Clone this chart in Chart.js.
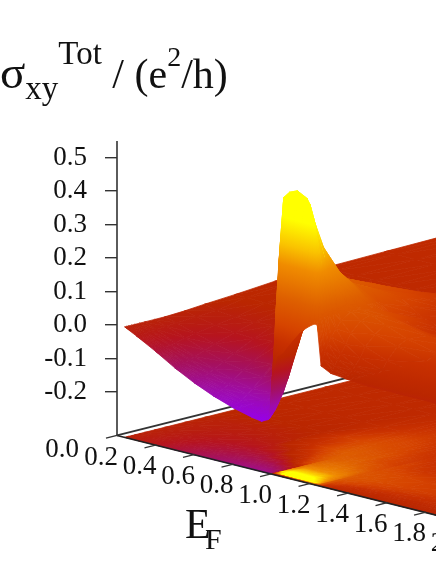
<!DOCTYPE html>
<html><head><meta charset="utf-8">
<style>html,body{margin:0;padding:0;background:#fff}canvas{display:block}</style>
<script src="https://cdn.jsdelivr.net/npm/chart.js@4"></script>
</head><body><canvas id="c" width="436" height="564"></canvas>
<script>
const zTicks=[0.5,0.4,0.3,0.2,0.1,0.0,-0.1,-0.2];
const efTicks=[0.2,0.4,0.6,0.8,1.0,1.2,1.4,1.6,1.8,2.0];
const tNodes=[0,.02,.04,.07,.1,.15,.2,.3,.4,.6,.8,1.1,1.5,2,2.6,3.3];
const efNodes=[.24,.3,.4,.5,.6,.7,.8,.9,.95,.985,.995,1.005,1.03,1.06,1.1,1.15,1.2,1.225,1.24,1.26,1.31,1.385,1.5,1.65,1.85,2.0];
const sigma=[
[0,0,0,0,0,0,0,0,0,.003,.008,.014,.024,.027,.03,.033],
[-.018,-.018,-.017,-.017,-.016,-.015,-.014,-.012,-.01,-.006,-.002,.014,.024,.027,.03,.033],
[-.05,-.049,-.048,-.047,-.045,-.042,-.039,-.033,-.027,-.016,-.007,.012,.024,.027,.03,.033],
[-.085,-.083,-.082,-.08,-.077,-.072,-.066,-.055,-.044,-.024,-.008,.012,.024,.027,.03,.033],
[-.115,-.113,-.111,-.108,-.104,-.097,-.089,-.074,-.058,-.028,-.004,.012,.024,.027,.03,.033],
[-.14,-.138,-.135,-.131,-.126,-.117,-.107,-.087,-.065,-.02,.004,.014,.024,.027,.03,.033],
[-.16,-.157,-.154,-.149,-.143,-.132,-.119,-.092,-.06,.01,.06,.09,.05,.03,.03,.033],
[-.175,-.172,-.168,-.161,-.153,-.137,-.118,-.07,0,.08,.14,.13,.08,.04,.03,.033],
[-.18,-.176,-.171,-.162,-.15,-.128,-.1,-.02,.06,.14,.18,.15,.09,.045,.03,.033],
[-.17,-.165,-.158,-.146,-.13,-.1,-.06,.03,.12,.18,.19,.15,.095,.05,.03,.033],
[-.148,-.14,-.13,-.115,-.095,-.06,-.02,.06,.14,.19,.19,.15,.095,.05,.03,.033],
[-.05,.03,.15,.3,.4,.35,.3,.25,.22,.2,.19,.15,.1,.05,.03,.033],
[.024,.1,.38,.495,.48,.43,.37,.29,.24,.2,.18,.14,.1,.05,.035,.032],
[.04,.12,.44,.515,.51,.44,.38,.3,.25,.21,.18,.14,.095,.05,.035,.032],
[.075,.18,.46,.525,.515,.44,.38,.3,.26,.21,.18,.13,.085,.05,.035,.032],
[.115,.22,.49,.51,.49,.43,.37,.3,.26,.2,.14,.11,.07,.045,.035,.03],
[.14,.3,.46,.4,.37,.33,.31,.28,.245,.17,.12,.09,.06,.04,.03,.03],
[.15,.27,.33,.32,.3,.28,.265,.235,.21,.155,.11,.085,.055,.04,.03,.03],
[.15,.16,.17,.18,.18,.18,.18,.19,.18,.145,.105,.08,.055,.04,.03,.03],
[.03,.05,.07,.09,.11,.13,.15,.17,.17,.15,.12,.08,.05,.04,.03,.03],
[.015,.025,.035,.05,.065,.09,.12,.15,.16,.14,.1,.065,.045,.035,.03,.03],
[.01,.015,.02,.03,.04,.06,.09,.12,.14,.125,.085,.055,.04,.03,.03,.03],
[.005,.01,.015,.02,.03,.04,.065,.1,.115,.11,.08,.05,.04,.03,.03,.03],
[.005,.008,.01,.015,.02,.03,.05,.075,.095,.1,.075,.05,.04,.03,.03,.03],
[.004,.006,.008,.01,.015,.022,.035,.055,.075,.085,.07,.05,.035,.03,.03,.03],
[.004,.006,.008,.01,.015,.022,.03,.045,.06,.07,.06,.05,.035,.03,.03,.03]
];
const zFloor=-0.33, zTop=0.55, efOrigin=0.2;
// oblique projection of (EF, t, sigma) into the two chart scales
const tToX=0.5195, efToY=0.1437, tToY=0.0749;
const proj=(ef,t,z)=>({x:ef+t*tToX,y:z-(ef-efOrigin)*efToY+t*tToY});

const stops=[[-.18,[150,0,235]],[-.13,[158,12,170]],[-.08,[165,16,95]],[-.03,[182,20,30]],[.01,[186,38,0]],[.07,[200,48,0]],[.12,[214,68,0]],[.2,[222,95,0]],[.3,[240,140,0]],[.36,[250,195,0]],[.44,[255,255,0]]];
function colour(v){
  if(v<=stops[0][0])return `rgb(${stops[0][1]})`;
  for(let i=1;i<stops.length;i++){ if(v<=stops[i][0]){const a=stops[i-1],b=stops[i],f=(v-a[0])/(b[0]-a[0]);
    return `rgb(${a[1].map((c,k)=>Math.round(c+(b[1][k]-c)*f))})`; } }
  return `rgb(${stops[stops.length-1][1]})`;
}
// a triangle's paint: linear gradient whose axis follows the plane through its three corner values
function shade(pts,vals){
  return (ctx)=>{
    const ch=ctx.chart,X=ch.scales.x,Y=ch.scales.y;
    const lo=Math.min(...vals),hi=Math.max(...vals),flat=colour((lo+hi)/2);
    if(!X||!Y)return flat;
    const p=pts.map(q=>[X.getPixelForValue(q.x),Y.getPixelForValue(q.y)]);
    const ax=p[1][0]-p[0][0],ay=p[1][1]-p[0][1],bx=p[2][0]-p[0][0],by=p[2][1]-p[0][1];
    const dv1=vals[1]-vals[0],dv2=vals[2]-vals[0],det=ax*by-ay*bx;
    if(!isFinite(det)||Math.abs(det)<1e-6||hi-lo<1e-5)return flat;
    const gx=(dv1*by-dv2*ay)/det,gy=(ax*dv2-bx*dv1)/det,g2=gx*gx+gy*gy;
    const x0=p[0][0]+gx/g2*(lo-vals[0]),y0=p[0][1]+gy/g2*(lo-vals[0]);
    const x1=p[0][0]+gx/g2*(hi-vals[0]),y1=p[0][1]+gy/g2*(hi-vals[0]);
    if(![x0,y0,x1,y1].every(isFinite))return flat;
    const gr=ch.ctx.createLinearGradient(x0,y0,x1,y1);
    gr.addColorStop(0,colour(lo));
    for(const s of stops){ if(s[0]>lo&&s[0]<hi)gr.addColorStop((s[0]-lo)/(hi-lo),colour(s[0])); }
    gr.addColorStop(1,colour(hi));
    return gr;
  };
}
const painted=[];
function tri(a,b,c,vals){
  const f=shade([a,b,c],vals);
  painted.push({type:'line',data:[a,b,c,a],fill:'shape',backgroundColor:f,borderColor:f,borderWidth:.8,pointRadius:0,tension:0});
}
function cells(z){
  const tone=(v,j)=>z===null||j===0||v>=0?v:v*.6;
  for(let i=0;i<efNodes.length-1;i++){
    for(let j=tNodes.length-2;j>=0;j--){
      const s=[sigma[i][j],sigma[i+1][j],sigma[i+1][j+1],sigma[i][j+1]];
      const v=[tone(s[0],j),tone(s[1],j),tone(s[2],j+1),tone(s[3],j+1)];
      const pz=k=>z===null?s[k]:z;
      const P0=proj(efNodes[i],tNodes[j],pz(0)),P1=proj(efNodes[i+1],tNodes[j],pz(1)),P2=proj(efNodes[i+1],tNodes[j+1],pz(2)),P3=proj(efNodes[i],tNodes[j+1],pz(3));
      tri(P0,P3,P2,[v[0],v[3],v[2]]);
      tri(P0,P2,P1,[v[0],v[2],v[1]]);
    }
  }
}
function axisLine(pts,color,w){painted.push({type:'line',data:pts,borderColor:color,borderWidth:w,pointRadius:0,fill:false,clip:false});}
cells(zFloor);
axisLine([proj(efOrigin,0,zFloor),proj(efOrigin,3.3,zFloor)],'#333',1.8);
cells(null);
axisLine([proj(efOrigin,0,zFloor),proj(2.0,0,zFloor)],'#222',1.6);
axisLine([proj(efOrigin,0,zFloor),proj(efOrigin,0,zTop)],'#333',1.6);
efTicks.forEach(e=>axisLine([proj(e,-.11,zFloor),proj(e,.01,zFloor)],'#333',1.3));

const serif='"Liberation Serif","Times New Roman",serif';
const labels={
  id:'labels',
  afterDraw(ch){
    const c=ch.ctx,X=ch.scales.x,Y=ch.scales.y;
    c.save();c.fillStyle='#111';c.textBaseline='alphabetic';
    const runs=(x,list)=>{for(const [s,sz,y,st] of list){c.font=(st||'')+sz+'px '+serif;c.fillText(s,x,y);x+=c.measureText(s).width;}};
    runs(0,[['σ',47,88],['xy',33,99],['Tot',33,64],[' / (e',42,88],['2',28,66],['/h)',42,88]]);
    c.font='27px '+serif;c.textAlign='center';c.textBaseline='middle';
    for(const e of efTicks){const p=proj(e,0,zFloor);
      c.fillText(e.toFixed(1),X.getPixelForValue(p.x)-16,Y.getPixelForValue(p.y)+22);}
    const o=proj(efOrigin,0,zFloor);
    c.fillText('0.0',X.getPixelForValue(o.x)-55,Y.getPixelForValue(o.y)+14);
    c.textAlign='left';c.textBaseline='alphabetic';
    runs(185,[['E',42,538]]);
    runs(205,[['F',30,549]]);
    c.restore();
  }
};
const chart=new Chart(document.getElementById('c'),{
  type:'line',
  data:{datasets:painted.slice().reverse()},
  options:{responsive:false,animation:false,events:[],
    layout:{autoPadding:false,padding:{left:0,top:141,right:0,bottom:0}},
    plugins:{legend:{display:false},tooltip:{enabled:false},title:{display:false}},
    scales:{
      x:{type:'linear',display:false,min:0.2,max:1.857},
      y:{type:'linear',min:-0.612,max:0.5497,
        afterBuildTicks(a){a.ticks=zTicks.map(v=>({value:v}));},
        afterFit(a){a.width=117;},
        border:{display:false},
        grid:{drawOnChartArea:false,drawTicks:true,tickLength:12,color:'#333',lineWidth:1.4},
        ticks:{autoSkip:false,padding:18,color:'#111',font:{family:serif,size:27},callback:v=>v.toFixed(1)}
      }
    }
  },
  plugins:[labels]
});
chart.update();
</script></body></html>
